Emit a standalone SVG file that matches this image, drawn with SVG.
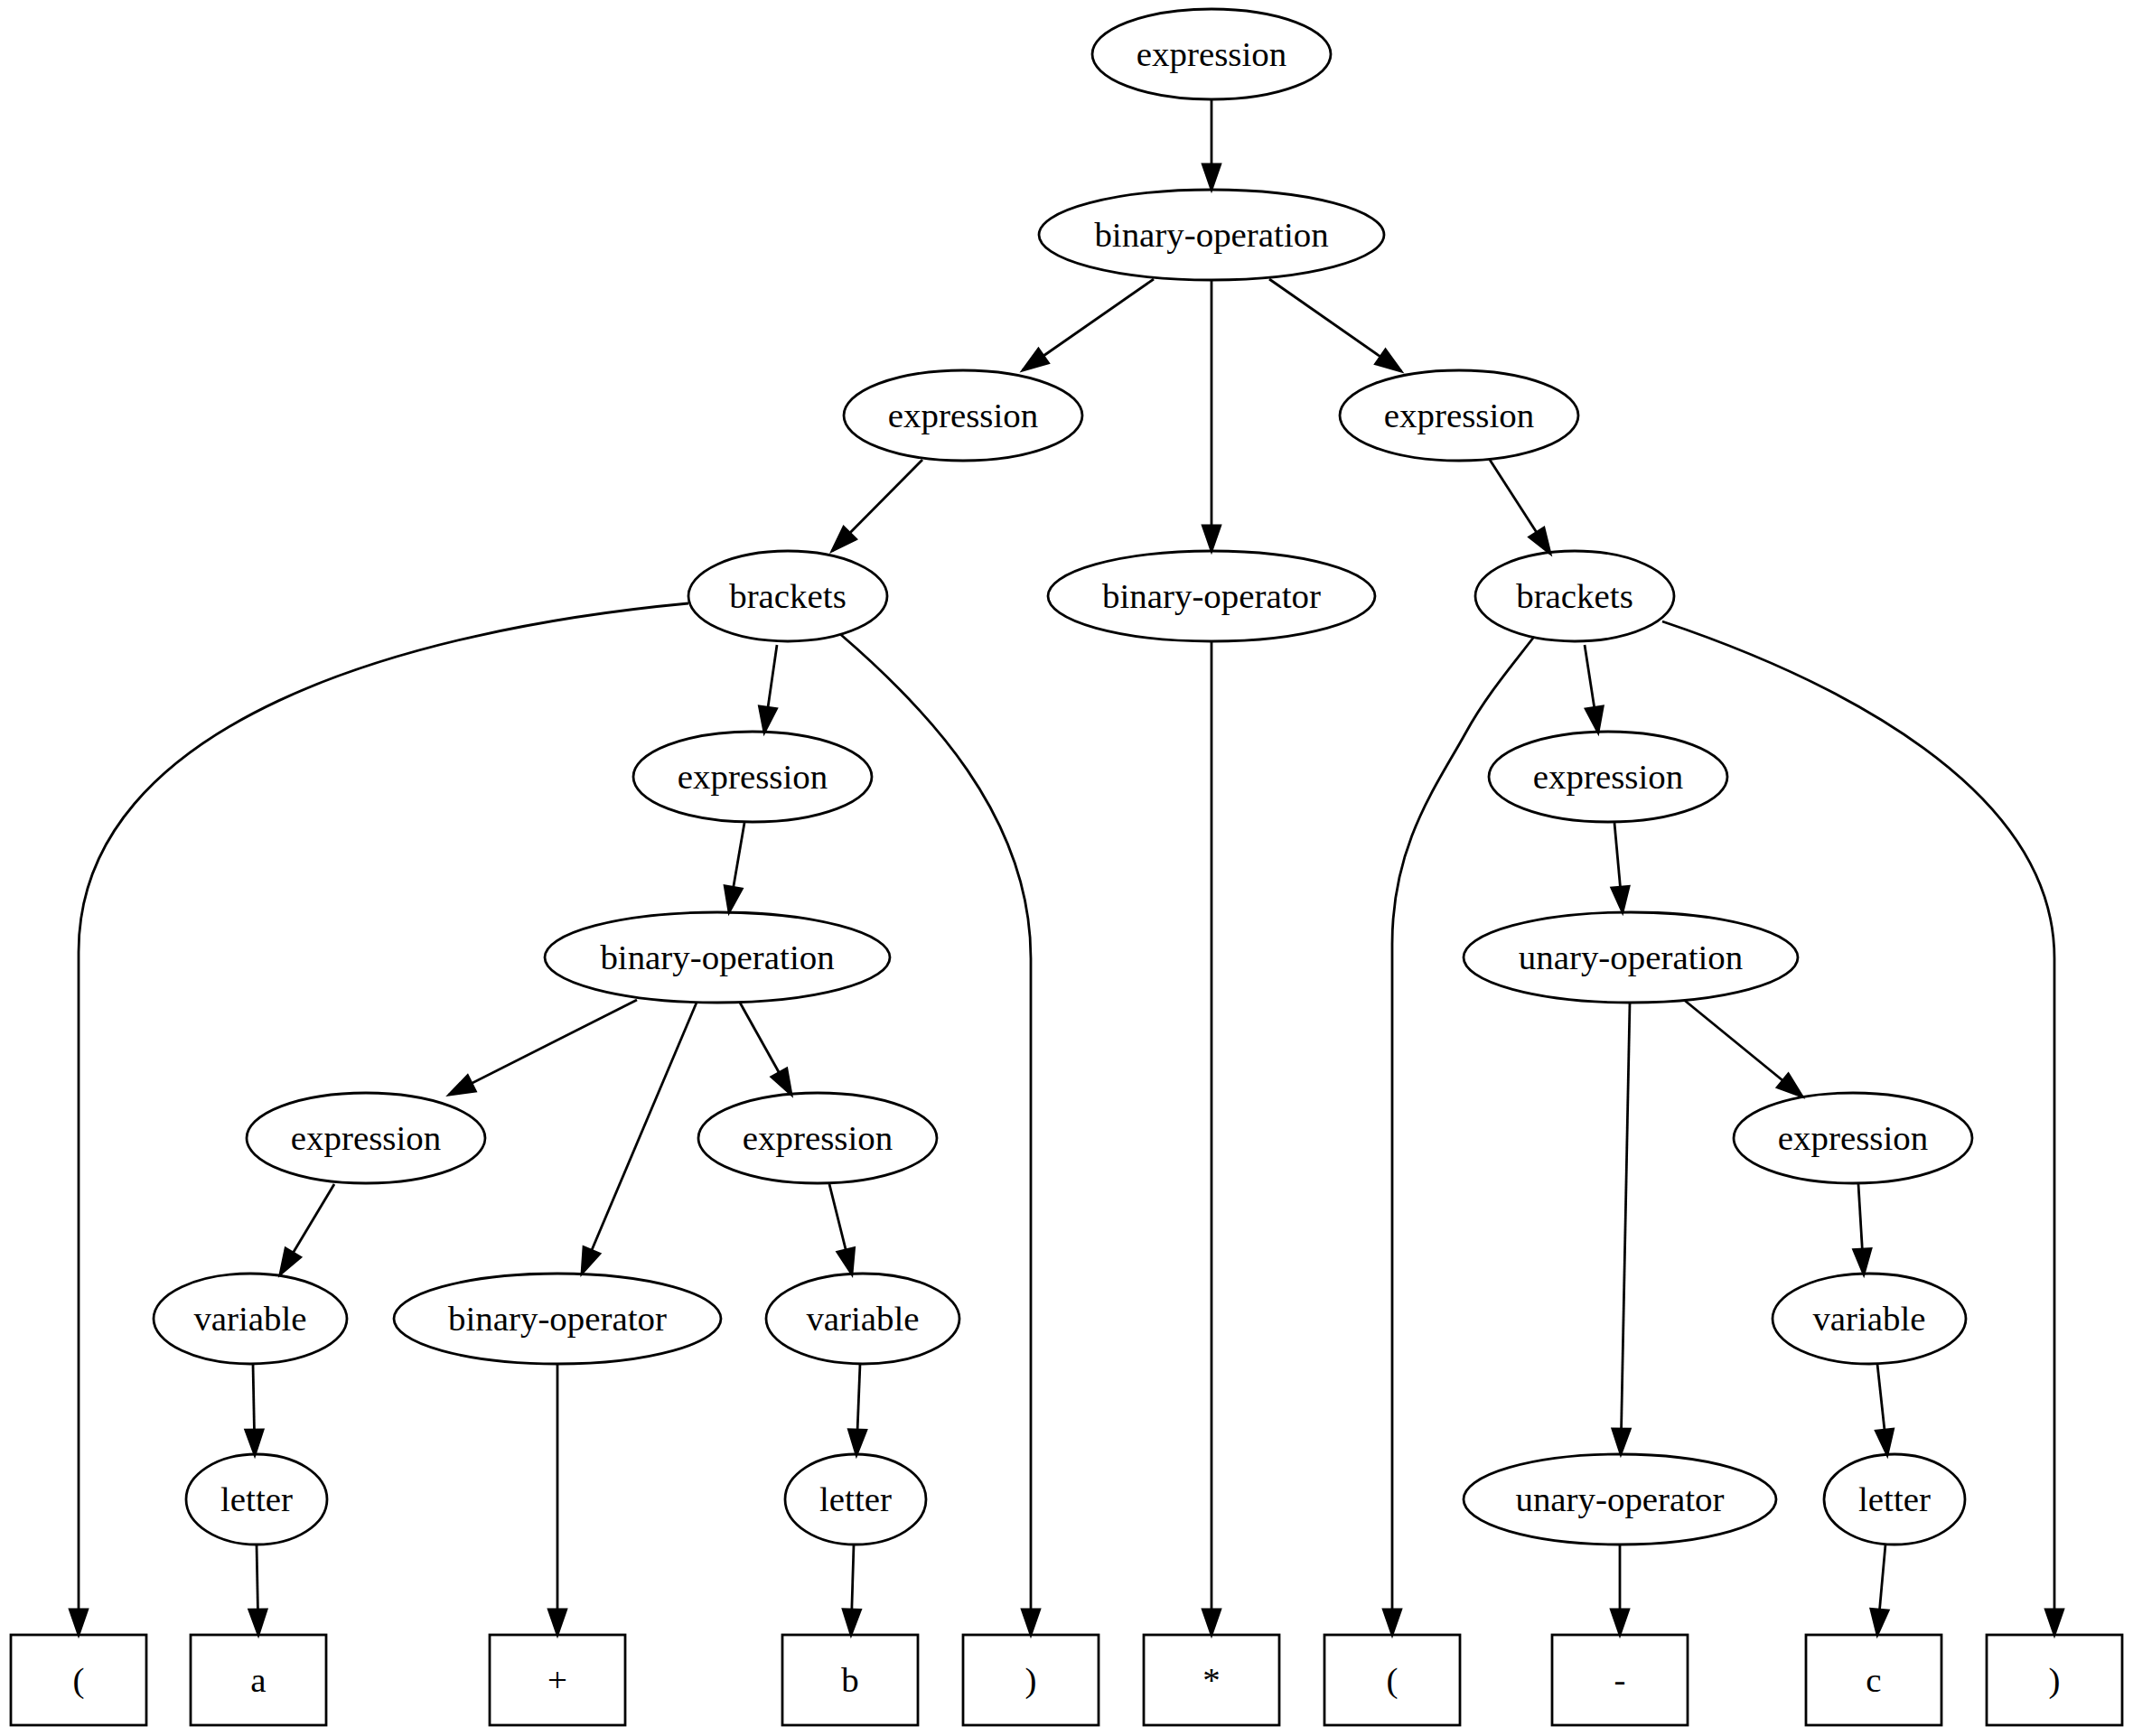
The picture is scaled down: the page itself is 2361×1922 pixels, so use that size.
<svg xmlns="http://www.w3.org/2000/svg" width="2361" height="1922" viewBox="0 0 2361 1922">
<style>
.n ellipse, .n rect { fill: none; stroke: #000; stroke-width: 2.78; }
.n text { font-family: "Liberation Serif", "Times New Roman", serif; font-size: 38.9px; text-anchor: middle; fill: #000; }
.e path { fill: none; stroke: #000; stroke-width: 2.78; marker-end: url(#arr); }
</style>
<defs>
<marker id="arr" viewBox="0 0 32 24" refX="30" refY="12" markerWidth="32" markerHeight="24" markerUnits="userSpaceOnUse" orient="auto" overflow="visible">
<polygon points="2,2.3 30,12 2,21.7" fill="#000" stroke="#000" stroke-width="2.78"/>
</marker>
</defs>
<rect width="2361" height="1922" fill="#fff"/>
<g id="edges" class="e">
<path d="M1341,110 L1341,210"/>
<path d="M1277,309 L1132,410"/>
<path d="M1341,310 L1341,610"/>
<path d="M1405,309 L1551,411"/>
<path d="M1021,509 L921,610"/>
<path d="M1649,509 L1716,613"/>
<path d="M762,668 C452,697 87,798 87,1054 L87,1810"/>
<path d="M860,714 L846,811"/>
<path d="M930,702 C1024,783 1141,903 1141,1061 L1141,1810"/>
<path d="M1341,710 L1341,1810"/>
<path d="M1698,705 C1675,735 1645,770 1622,812 C1590,870 1541,935 1541,1045 L1541,1810"/>
<path d="M1754,714 L1769,811"/>
<path d="M1840,688 C2033,753 2274,873 2274,1061 L2274,1810"/>
<path d="M824,911 L807,1010"/>
<path d="M1787,911 L1796,1010"/>
<path d="M705,1107 L497,1212"/>
<path d="M771,1110 L644,1410"/>
<path d="M819,1110 L876,1212"/>
<path d="M1804,1110 L1794,1610"/>
<path d="M1864,1107 L1995,1214"/>
<path d="M370,1311 L310,1411"/>
<path d="M918,1311 L943,1411"/>
<path d="M2057,1311 L2063,1411"/>
<path d="M280,1510 L282,1611"/>
<path d="M617,1510 L617,1810"/>
<path d="M952,1510 L948,1611"/>
<path d="M2078,1510 L2089,1611"/>
<path d="M284,1710 L286,1810"/>
<path d="M945,1710 L942,1810"/>
<path d="M1793,1710 L1793,1810"/>
<path d="M2087,1710 L2078,1810"/>
</g>
<g id="n_expr0" class="n"><ellipse cx="1341" cy="60" rx="132" ry="50"/><text x="1341" y="73">expression</text></g>
<g id="n_binop0" class="n"><ellipse cx="1341" cy="260" rx="191" ry="50"/><text x="1341" y="273">binary-operation</text></g>
<g id="n_exprL" class="n"><ellipse cx="1066" cy="460" rx="132" ry="50"/><text x="1066" y="473">expression</text></g>
<g id="n_exprR" class="n"><ellipse cx="1615" cy="460" rx="132" ry="50"/><text x="1615" y="473">expression</text></g>
<g id="n_bracketsL" class="n"><ellipse cx="872" cy="660" rx="110" ry="50"/><text x="872" y="673">brackets</text></g>
<g id="n_binoper0" class="n"><ellipse cx="1341" cy="660" rx="181" ry="50"/><text x="1341" y="673">binary-operator</text></g>
<g id="n_bracketsR" class="n"><ellipse cx="1743" cy="660" rx="110" ry="50"/><text x="1743" y="673">brackets</text></g>
<g id="n_exprLL" class="n"><ellipse cx="833" cy="860" rx="132" ry="50"/><text x="833" y="873">expression</text></g>
<g id="n_exprRR" class="n"><ellipse cx="1780" cy="860" rx="132" ry="50"/><text x="1780" y="873">expression</text></g>
<g id="n_binop1" class="n"><ellipse cx="794" cy="1060" rx="191" ry="50"/><text x="794" y="1073">binary-operation</text></g>
<g id="n_unop" class="n"><ellipse cx="1805" cy="1060" rx="185" ry="50"/><text x="1805" y="1073">unary-operation</text></g>
<g id="n_exprA" class="n"><ellipse cx="405" cy="1260" rx="132" ry="50"/><text x="405" y="1273">expression</text></g>
<g id="n_exprB" class="n"><ellipse cx="905" cy="1260" rx="132" ry="50"/><text x="905" y="1273">expression</text></g>
<g id="n_exprC" class="n"><ellipse cx="2051" cy="1260" rx="132" ry="50"/><text x="2051" y="1273">expression</text></g>
<g id="n_varA" class="n"><ellipse cx="277" cy="1460" rx="107" ry="50"/><text x="277" y="1473">variable</text></g>
<g id="n_binoper1" class="n"><ellipse cx="617" cy="1460" rx="181" ry="50"/><text x="617" y="1473">binary-operator</text></g>
<g id="n_varB" class="n"><ellipse cx="955" cy="1460" rx="107" ry="50"/><text x="955" y="1473">variable</text></g>
<g id="n_varC" class="n"><ellipse cx="2069" cy="1460" rx="107" ry="50"/><text x="2069" y="1473">variable</text></g>
<g id="n_letA" class="n"><ellipse cx="284" cy="1660" rx="78" ry="50"/><text x="284" y="1673">letter</text></g>
<g id="n_letB" class="n"><ellipse cx="947" cy="1660" rx="78" ry="50"/><text x="947" y="1673">letter</text></g>
<g id="n_unoper" class="n"><ellipse cx="1793" cy="1660" rx="173" ry="50"/><text x="1793" y="1673">unary-operator</text></g>
<g id="n_letC" class="n"><ellipse cx="2097" cy="1660" rx="78" ry="50"/><text x="2097" y="1673">letter</text></g>
<g id="t_lp1" class="n"><rect x="12" y="1810" width="150" height="100"/><text x="87" y="1873">(</text></g>
<g id="t_a" class="n"><rect x="211" y="1810" width="150" height="100"/><text x="286" y="1873">a</text></g>
<g id="t_plus" class="n"><rect x="542" y="1810" width="150" height="100"/><text x="617" y="1873">+</text></g>
<g id="t_b" class="n"><rect x="866" y="1810" width="150" height="100"/><text x="941" y="1873">b</text></g>
<g id="t_rp1" class="n"><rect x="1066" y="1810" width="150" height="100"/><text x="1141" y="1873">)</text></g>
<g id="t_star" class="n"><rect x="1266" y="1810" width="150" height="100"/><text x="1341" y="1873">*</text></g>
<g id="t_lp2" class="n"><rect x="1466" y="1810" width="150" height="100"/><text x="1541" y="1873">(</text></g>
<g id="t_minus" class="n"><rect x="1718" y="1810" width="150" height="100"/><text x="1793" y="1873">-</text></g>
<g id="t_c" class="n"><rect x="1999" y="1810" width="150" height="100"/><text x="2074" y="1873">c</text></g>
<g id="t_rp2" class="n"><rect x="2199" y="1810" width="150" height="100"/><text x="2274" y="1873">)</text></g>
</svg>
